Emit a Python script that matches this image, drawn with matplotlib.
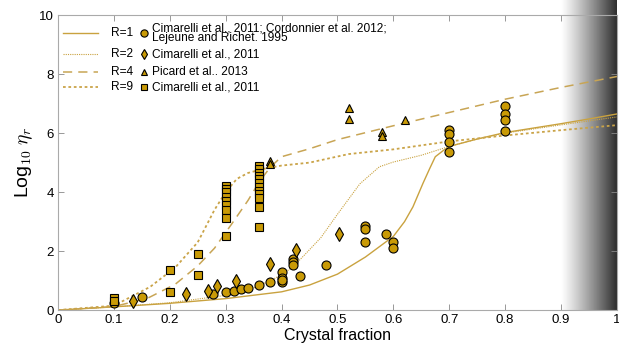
import numpy as np
import matplotlib
matplotlib.use('Agg')
import matplotlib.pyplot as plt
from matplotlib.colors import LinearSegmentedColormap

plt.rcParams['font.family'] = ['Liberation Sans', 'DejaVu Sans']
plt.rcParams['mathtext.fontset'] = 'cm'

# model curves
r1_x = [0, 0.1, 0.2, 0.3, 0.4, 0.45, 0.5, 0.55, 0.6, 0.62, 0.635, 0.653, 0.665, 0.675, 0.69, 0.7, 0.75, 0.8, 0.85, 0.9, 0.95, 1.0]
r1_y = [0, 0.11, 0.23, 0.39, 0.62, 0.85, 1.22, 1.8, 2.5, 3.0, 3.5, 4.3, 4.8, 5.2, 5.42, 5.55, 5.8, 6.02, 6.17, 6.32, 6.48, 6.65]

r2_x = [0, 0.1, 0.2, 0.3, 0.35, 0.38, 0.40, 0.42, 0.44, 0.47, 0.50, 0.54, 0.575, 0.6, 0.65, 0.7, 0.75, 0.8, 0.9, 1.0]
r2_y = [0, 0.11, 0.25, 0.5, 0.75, 1.0, 1.2, 1.46, 1.85, 2.45, 3.25, 4.28, 4.86, 5.02, 5.25, 5.55, 5.8, 6.0, 6.28, 6.55]

r4_x = [0, 0.1, 0.16, 0.21, 0.25, 0.28, 0.31, 0.34, 0.36, 0.38, 0.40, 0.45, 0.5, 0.6, 0.7, 0.8, 0.9, 1.0]
r4_y = [0, 0.12, 0.4, 0.88, 1.5, 2.1, 2.9, 3.72, 4.35, 4.85, 5.2, 5.47, 5.78, 6.25, 6.7, 7.15, 7.55, 7.92]

r9_x = [0, 0.1, 0.165, 0.21, 0.25, 0.28, 0.30, 0.32, 0.34, 0.37, 0.40, 0.45, 0.52, 0.6, 0.7, 0.8, 0.9, 1.0]
r9_y = [0, 0.15, 0.79, 1.45, 2.3, 3.4, 4.0, 4.45, 4.65, 4.8, 4.9, 5.0, 5.29, 5.45, 5.72, 5.92, 6.1, 6.27]

# measurements
circ_x = [0.10, 0.15, 0.278, 0.30, 0.314, 0.327, 0.34, 0.36, 0.38, 0.40, 0.40, 0.40, 0.40, 0.42, 0.42, 0.42,
          0.433, 0.48, 0.55, 0.55, 0.55, 0.587, 0.60, 0.60, 0.70, 0.70, 0.70, 0.70, 0.80, 0.80, 0.80, 0.80]
circ_y = [0.25, 0.45, 0.54, 0.62, 0.65, 0.70, 0.75, 0.84, 0.96, 1.28, 1.10, 0.95, 1.02, 1.72, 1.62, 1.52,
          1.17, 1.53, 2.85, 2.74, 2.32, 2.59, 2.31, 2.12, 6.10, 5.97, 5.69, 5.37, 6.93, 6.64, 6.45, 6.06]

diam_x = [0.134, 0.229, 0.269, 0.285, 0.318, 0.379, 0.426, 0.502]
diam_y = [0.31, 0.56, 0.64, 0.81, 0.99, 1.55, 2.04, 2.57]

tri_x = [0.38, 0.38, 0.52, 0.52, 0.58, 0.58, 0.62]
tri_y = [5.07, 4.95, 6.85, 6.48, 6.05, 5.90, 6.44]

sq_x = [0.10, 0.10, 0.20, 0.20, 0.25, 0.25] + [0.30] * 9 + [0.36] * 12
sq_y = [0.42, 0.32, 1.37, 0.61, 1.89, 1.19,
        4.22, 4.11, 4.0, 3.85, 3.69, 3.57, 3.38, 3.13, 2.52,
        4.9, 4.78, 4.66, 4.55, 4.43, 4.3, 4.18, 4.05, 3.92, 3.8, 3.49, 2.81]

r_labels = ['R=1', 'R=2', 'R=4', 'R=9']
refs = ['Cimarelli et al., 2011; Cordonnier et al. 2012;\nLejeune and Richet. 1995',
        'Cimarelli et al., 2011', 'Picard et al.. 2013', 'Cimarelli et al., 2011']

line_c = '#c9a23f'
face_c = '#c99a06'
styles = [dict(color=line_c, lw=1.0, ls='-'),
          dict(color=line_c, lw=0.8, ls=(0, (1, 1))),
          dict(color='#c8a555', lw=1.1, ls=(0, (6, 4))),
          dict(color='#caa449', lw=1.3, ls=(0, (1.5, 1.5)))]
markers = [dict(marker='o', ms=6.5), dict(marker='d', ms=7),
           dict(marker='^', ms=6), dict(marker='s', ms=5.5)]

fig = plt.figure(figsize=(6.19, 3.52), dpi=100)
ax = fig.add_axes([0.0937, 0.119, 0.903, 0.838])

# grey shading at high crystal fraction
grad = np.linspace(0, 1, 256).reshape(1, -1) ** 1.15
cmap = LinearSegmentedColormap.from_list('g', ['#ffffff', '#2e2e2e'])
ax.imshow(grad, extent=[0.9, 1.0, 0, 10.52], aspect='auto', cmap=cmap,
          zorder=0, clip_on=False)

curves = [(r1_x, r1_y), (r2_x, r2_y), (r4_x, r4_y), (r9_x, r9_y)]
for (cx, cy), st in zip(curves, styles):
    ax.plot(cx, cy, zorder=2, **st)

pts = [(circ_x, circ_y), (diam_x, diam_y), (tri_x, tri_y), (sq_x, sq_y)]
for (px, py), mk in zip(pts, markers):
    ax.plot(px, py, ls='none', mfc=face_c, mec='black', mew=0.8, zorder=3, **mk)

# legend drawn by hand to keep line | R | marker | reference layout
rows = [0.939, 0.868, 0.807, 0.756]
for yy, st, mk, rl, rf in zip(rows, styles, markers, r_labels, refs):
    ax.plot([0.009, 0.072], [yy, yy], transform=ax.transAxes, **st)
    ax.text(0.095, yy, rl, transform=ax.transAxes, fontsize=8.6, va='center')
    ax.plot([0.153], [yy], transform=ax.transAxes, ls='none', mfc=face_c,
            mec='black', mew=0.8, marker=mk['marker'], ms=mk['ms'] * 0.8)
    ax.text(0.169, yy, rf, transform=ax.transAxes, fontsize=8.6, va='center',
            linespacing=0.72)

ax.set_xlim(0, 1)
ax.set_ylim(0, 10)
ax.set_xticks(np.arange(0, 1.01, 0.1))
ax.set_xticklabels(['0', '0.1', '0.2', '0.3', '0.4', '0.5', '0.6', '0.7', '0.8', '0.9', '1'])
ax.set_yticks([0, 2, 4, 6, 8, 10])
ax.tick_params(direction='in', top=True, right=True, length=4, width=0.6,
               colors='#888888', labelcolor='black', labelsize=9.5, pad=3)
for sp in ax.spines.values():
    sp.set_color('#aaaaaa')
    sp.set_linewidth(0.8)

ax.set_xlabel('Crystal fraction', fontsize=11.5, labelpad=1)
ax.set_ylabel('Log$_{\\mathsf{10}}$ $\\eta_r$', fontsize=14, labelpad=3)

fig.savefig('out.png', dpi=100)
